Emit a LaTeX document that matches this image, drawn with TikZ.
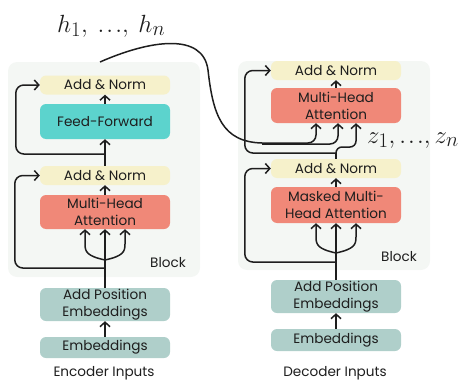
\documentclass[tikz,border=0pt]{standalone}
\usepackage{fontspec}
\setmainfont{Poppins}
\usetikzlibrary{arrows.meta}
\definecolor{blockbg}{HTML}{F4F7F4}
\definecolor{normfill}{HTML}{F6F1CB}
\definecolor{fffill}{HTML}{5CD3CD}
\definecolor{attfill}{HTML}{F08878}
\definecolor{embfill}{HTML}{AFCFCA}
\definecolor{ink}{HTML}{1E1E1E}
% a tighter ellipsis for the sequence labels
\newcommand{\seqdots}{{.}\mkern1.5mu{.}\mkern1.5mu{.}}

\begin{document}
\begin{tikzpicture}[x=1pt,y=-1pt,
  box/.style={rounded corners=6pt, minimum width=130pt, inner sep=0pt,
    align=center, text=ink, font=\fontsize{13.6}{17}\selectfont},
  normbox/.style={box, fill=normfill, minimum height=19pt},
  ffbox/.style={box, fill=fffill, minimum height=35pt},
  attbox/.style={box, fill=attfill, minimum height=35pt},
  embbox/.style={box, fill=embfill},
  blockbg/.style={fill=blockbg, rounded corners=9pt},
  label/.style={text=ink, inner sep=0pt, font=\fontsize{13.6}{16}\selectfont},
  seq/.style={anchor=base west, inner sep=0pt, text=ink, font=\fontsize{31}{31}\selectfont},
  wire/.style={draw=ink, line width=1.5pt},
  link/.style={wire, -{Straight Barb[length=4.5pt,width=10pt]}},
]
\useasboundingbox (0,0) rectangle (458,380);

% block backgrounds
\path[blockbg] (8,62) rectangle (200,277);
\path[blockbg] (238,61) rectangle (430,270);

% encoder column
\node[normbox] (enc-an2) at (105,85) {Add \& Norm};
\node[ffbox] (enc-ff) at (105,121.5) {Feed-Forward};
\node[normbox] (enc-an1) at (105,175.5) {Add \& Norm};
\node[attbox, minimum height=34pt] (enc-mha) at (105,212) {Multi-Head\\Attention};
\node[embbox, minimum height=33pt] (enc-pos) at (105,304.5) {Add Position\\Embeddings};
\node[embbox, minimum height=21pt] (enc-emb) at (105,347.5) {Embeddings};
\node[label] (enc-blk) at (168,263) {Block};
\node[label] (enc-in) at (104,373) {Encoder Inputs};

% decoder column
\node[normbox] (dec-an2) at (336,70.5) {Add \& Norm};
\node[attbox] (dec-mha) at (336,105.5) {Multi-Head\\Attention};
\node[normbox] (dec-an1) at (336,168.5) {Add \& Norm};
\node[attbox, minimum height=36pt] (dec-mmha) at (336,205) {Masked Multi-\\Head Attention};
\node[embbox, minimum height=33pt] (dec-pos) at (336,296.5) {Add Position\\Embeddings};
\node[embbox, minimum height=22pt] (dec-emb) at (336,340) {Embeddings};
\node[label] (dec-blk) at (399,257) {Block};
\node[label] (dec-in) at (335,373) {Decoder Inputs};

% sequence labels
\node[seq] (hseq) at (57,32) {$h_1,\mkern4mu\seqdots,\mkern4mu h_n$};
\node[seq] (zseq) at (367,143) {$z_1, \seqdots, z_n$};

% junctions
\coordinate (enc-split) at (105,260);
\coordinate (enc-res1) at (105,268);
\coordinate (enc-res2) at (105,154);
\coordinate (dec-split) at (336,253);
\coordinate (dec-res1) at (336,262);
\coordinate (dec-res2) at (336,153);
\coordinate (hstart) at (100,62);
\coordinate (hsplit) at (262,143);

% encoder connectors
\draw[link] (enc-emb) -- (enc-pos);
\draw[link] (enc-pos.north) -- (enc-mha.south);
\draw[link] (enc-split) .. controls (87,256) and (85,252) .. (85,244) -- ([xshift=-20pt]enc-mha.south);
\draw[link] (enc-split) .. controls (123,256) and (125,252) .. (125,244) -- ([xshift=20pt]enc-mha.south);
\draw[link, rounded corners=8pt] (enc-res1) -| ([xshift=-25pt]enc-an1.west) -- (enc-an1.west);
\draw[link] (enc-mha) -- (enc-an1);
\draw[link] (enc-an1) -- (enc-ff);
\draw[link, rounded corners=8pt] (enc-res2) -| ([xshift=-24pt]enc-an2.west) -- (enc-an2.west);
\draw[link] (enc-ff) -- (enc-an2);

% decoder connectors
\draw[link] (dec-emb) -- (dec-pos);
\draw[link] (dec-pos.north) -- (dec-mmha.south);
\draw[link] (dec-split) .. controls (318,249) and (316,245) .. (316,237) -- ([xshift=-20pt]dec-mmha.south);
\draw[link] (dec-split) .. controls (354,249) and (356,245) .. (356,237) -- ([xshift=20pt]dec-mmha.south);
\draw[link, rounded corners=8pt] (dec-res1) -| ([xshift=-26pt]dec-an1.west) -- (dec-an1.west);
\draw[link] (dec-mmha) -- (dec-an1);
\draw[wire] (dec-an1.north) -- (dec-res2);
\draw[link, rounded corners=6pt] (dec-res2) -- ++(0,-6) -| ([xshift=20pt]dec-mha.south);
\draw[link, rounded corners=8pt] (dec-res2) -| ([xshift=-26pt]dec-an2.west) -- (dec-an2.west);
\draw[link] (dec-mha) -- (dec-an2);

% encoder output into the decoder attention
\draw[wire] (hstart) .. controls (150,40) and (203,32) .. (208,70)
  .. controls (213,115) and (222,142) .. (hsplit);
\draw[link, rounded corners=8pt] (hsplit) -| ([xshift=-20pt]dec-mha.south);
\draw[link, rounded corners=8pt] ([yshift=-1pt]hsplit) -| ([xshift=2pt]dec-mha.south);
\end{tikzpicture}
\end{document}
